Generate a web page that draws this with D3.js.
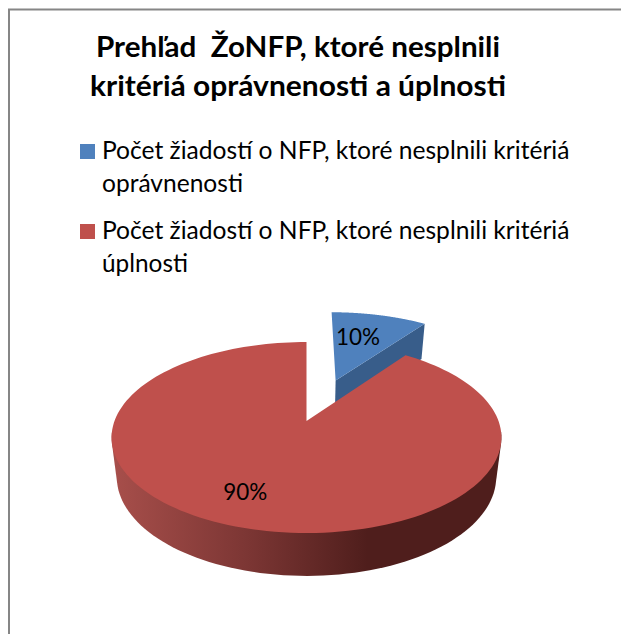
<!DOCTYPE html>
<html>
<head>
<meta charset="utf-8">
<script src="https://cdn.jsdelivr.net/npm/d3@7"></script>
<style>
    html, body { margin: 0; padding: 0; background: #fff; overflow: hidden; }
    svg { display: block; }
    text { font-family: Lato, "Open Sans", sans-serif; fill: #000; white-space: pre; }
</style>
</head>
<body>
<svg id="chart"></svg>
<script>
const titleLines = ['Prehľad  ŽoNFP, ktoré nesplnili', 'kritériá oprávnenosti a úplnosti'];
const legendLines = [
    ['Počet žiadostí o NFP, ktoré nesplnili kritériá', 'oprávnenosti'],
    ['Počet žiadostí o NFP, ktoré nesplnili kritériá', 'úplnosti'],
];
const values = [10, 90];
const labels = ['10%', '90%'];
const explode = [0.5, 0];

const topColors = ['#4f81bd', '#bf504c'];
const sideColor = '#385d8a';

const width = 621;
const height = 634;

const svg = d3.select('#chart').attr('width', width).attr('height', height);

// Chart frame, runs off the right and bottom of the picture.
svg.append('rect')
    .attr('x', 9)
    .attr('y', 9.5)
    .attr('width', width + 20)
    .attr('height', height + 20)
    .attr('fill', '#fff')
    .attr('stroke', '#868686')
    .attr('stroke-width', 2);

// Title.
svg.append('g')
    .selectAll('text')
    .data(titleLines)
    .enter()
    .append('text')
    .attr('x', (d, i) => [96, 90][i])
    .attr('y', (d, i) => [57, 96][i])
    .attr('font-size', 29)
    .attr('font-weight', 700)
    .attr('textLength', (d, i) => [404, 416][i])
    .attr('lengthAdjust', 'spacingAndGlyphs')
    .text(d => d);

// Legend.
const legend = svg.append('g')
    .selectAll('g')
    .data(legendLines)
    .enter()
    .append('g')
    .attr('transform', (d, i) => `translate(0, ${i * 80})`);

legend.append('rect')
    .attr('x', 80)
    .attr('y', 144)
    .attr('width', 15)
    .attr('height', 15)
    .attr('fill', (d, i) => topColors[i]);

legend.selectAll('text')
    .data((d, i) => d.map((text, line) => ({ text, length: line === 0 ? 467.5 : [141, 86][i] })))
    .enter()
    .append('text')
    .attr('x', 102)
    .attr('y', (d, i) => 159 + i * 33)
    .attr('font-size', 24.5)
    .attr('textLength', d => d.length)
    .attr('lengthAdjust', 'spacingAndGlyphs')
    .text(d => d.text);

// Pie angles.
const pie = d3.pie().sort(null).value(d => d)(values);

// Perspective projection of the unit disc, fitted on the reference.
const persp = -0.1728;
const project = (u, v, z) => {
    const w = 1 + persp * v;
    return [306.5 + (192 * u * (1 - 0.027 * z)) / w, (19.9 * v + 421) / w + (z * 39) / Math.sqrt(w)];
};

const offset = i => {
    const mid = (pie[i].startAngle + pie[i].endAngle) / 2 + 0.02;
    return [explode[i] * Math.sin(mid), -explode[i] * Math.cos(mid)];
};

// Point of slice i at radius r and angle a, on the top (z 0) or bottom (z 1) face.
const point = (i, a, r, z) => {
    const [ox, oy] = offset(i);
    return project(ox + r * Math.sin(a), oy - r * Math.cos(a), z);
};

const arcAngles = i => {
    const n = 160;
    return d3.range(n + 1).map(k => pie[i].startAngle + ((pie[i].endAngle - pie[i].startAngle) * k) / n);
};

const line = d3.line();

// Gradient of the red rim.
const gradient = svg.append('defs')
    .append('linearGradient')
    .attr('id', 'rim')
    .attr('gradientUnits', 'userSpaceOnUse')
    .attr('x1', 111)
    .attr('x2', 500)
    .attr('y1', 0)
    .attr('y2', 0);
gradient.append('stop').attr('offset', '0%').attr('stop-color', '#a84f4b');
gradient.append('stop').attr('offset', '35%').attr('stop-color', '#7c3634');
gradient.append('stop').attr('offset', '66%').attr('stop-color', '#4f1e1c');
gradient.append('stop').attr('offset', '100%').attr('stop-color', '#4f1e1c');

// Blue slice: cut face first, then the top.
const blueEnd = pie[0].endAngle;
svg.append('path')
    .attr('fill', sideColor)
    .attr('d', line([point(0, 0, 0, 0), point(0, blueEnd, 1, 0), point(0, blueEnd, 1, 1), point(0, 0, 0, 1)]) + 'Z');

svg.append('path')
    .attr('fill', topColors[0])
    .attr('d', line([point(0, 0, 0, 0), ...arcAngles(0).map(a => point(0, a, 1, 0))]) + 'Z');

// Red slice: rim as the hull of the front arc on both faces, then the top.
const redAngles = arcAngles(1);
const frontAngles = redAngles.filter(a => Math.cos(a) < -0.1);
const rimPoints = frontAngles.flatMap(a => [point(1, a, 1, 0), point(1, a, 1, 1)]);
svg.append('path')
    .attr('fill', 'url(#rim)')
    .attr('d', line(d3.polygonHull(rimPoints)) + 'Z');

svg.append('path')
    .attr('fill', topColors[1])
    .attr('d', line([point(1, 0, 0, 0), ...redAngles.map(a => point(1, a, 1, 0))]) + 'Z');

// Data labels.
svg.append('g')
    .selectAll('text')
    .data(labels)
    .enter()
    .append('text')
    .attr('x', (d, i) => point(i, (pie[i].startAngle + pie[i].endAngle) / 2, [0.63, 0.71][i], 0)[0] + [-6.5, -13.5][i])
    .attr('y', (d, i) => point(i, (pie[i].startAngle + pie[i].endAngle) / 2, [0.63, 0.71][i], 0)[1] + 8)
    .attr('text-anchor', 'middle')
    .attr('font-size', 24)
    .attr('textLength', 44)
    .attr('lengthAdjust', 'spacingAndGlyphs')
    .text(d => d);
</script>
</body>
</html>
